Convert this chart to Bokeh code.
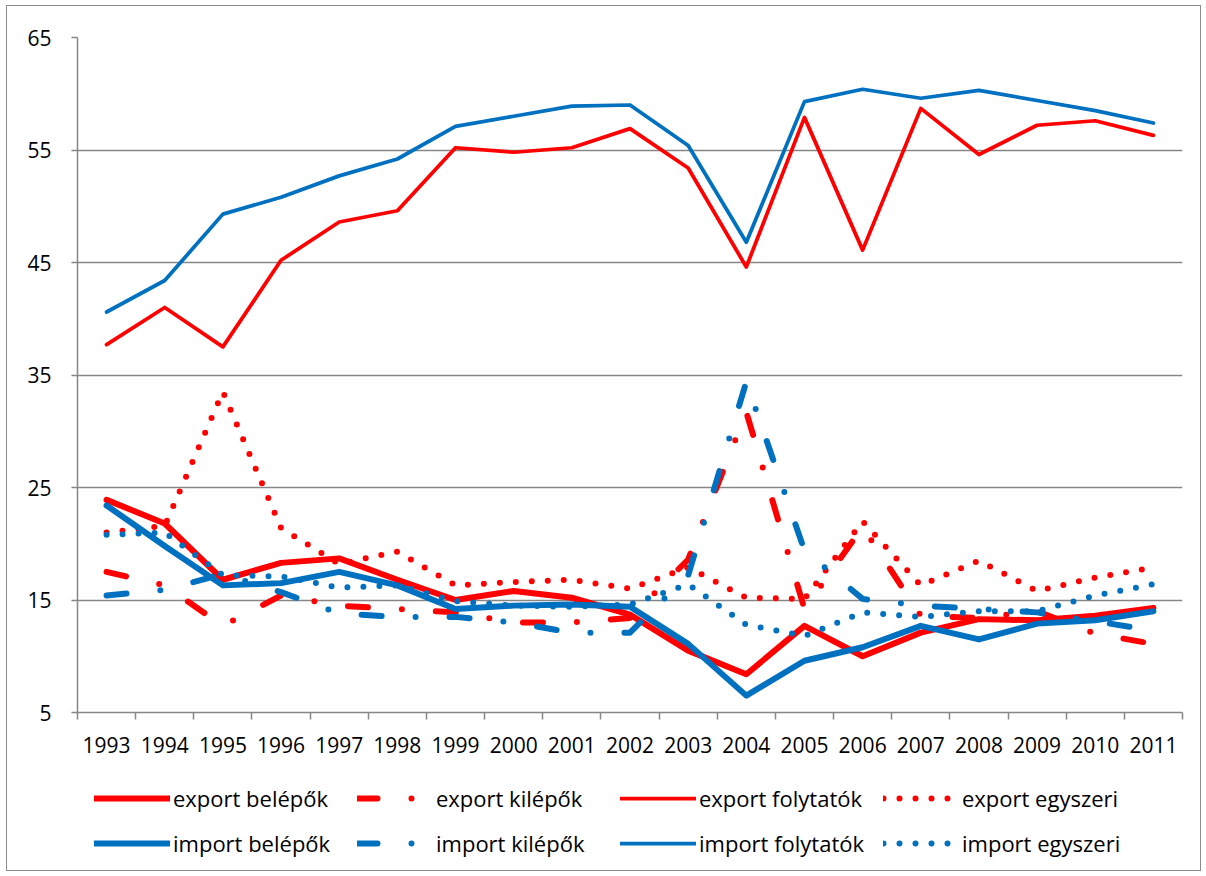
import numpy as np
from bokeh.plotting import figure
from bokeh.layouts import column
from bokeh.models import Range1d, FixedTicker, Legend, LegendItem
from bokeh.embed import file_html
from bokeh.resources import INLINE

years = ["1993", "1994", "1995", "1996", "1997", "1998", "1999", "2000", "2001", "2002",
         "2003", "2004", "2005", "2006", "2007", "2008", "2009", "2010", "2011"]
y_ticks = [5, 15, 25, 35, 45, 55, 65]

export_belepok = [23.9, 21.8, 16.8, 18.3, 18.7, 16.8, 15.0, 15.8, 15.2, 13.7, 10.5, 8.4, 12.7, 10.0, 12.1, 13.3, 13.2, 13.6, 14.3]
export_kilepok = [17.5, 16.3, 12.7, 15.4, 14.5, 14.2, 13.9, 13.0, 13.0, 13.4, 18.6, 31.7, 14.2, 21.5, 13.6, 13.4, 14.0, 12.0, 11.1]
export_folytatok = [37.7, 41.0, 37.5, 45.2, 48.6, 49.6, 55.2, 54.8, 55.2, 56.9, 53.4, 44.6, 57.9, 46.1, 58.7, 54.6, 57.2, 57.6, 56.3]
export_egyszeri = [21.0, 21.6, 33.5, 21.4, 18.2, 19.3, 16.3, 16.6, 16.8, 16.0, 17.9, 15.2, 15.1, 22.0, 16.3, 18.5, 15.8, 17.0, 17.9]
import_belepok = [23.4, 19.8, 16.3, 16.5, 17.5, 16.3, 14.2, 14.5, 14.6, 14.4, 11.1, 6.5, 9.6, 10.8, 12.7, 11.5, 12.9, 13.2, 14.0]
import_kilepok = [15.4, 15.9, 17.3, 15.7, 13.8, 13.5, 13.5, 13.0, 12.1, 12.1, 17.2, 34.4, 19.4, 15.1, 14.5, 14.2, 13.9, 13.1, 12.3]
import_folytatok = [40.6, 43.4, 49.3, 50.8, 52.7, 54.2, 57.1, 58.0, 58.9, 59.0, 55.4, 46.8, 59.3, 60.4, 59.6, 60.3, 59.4, 58.5, 57.4]
import_egyszeri = [20.8, 21.0, 17.2, 17.1, 16.1, 16.3, 14.9, 14.5, 14.4, 14.6, 16.4, 12.8, 11.8, 13.9, 13.5, 14.0, 14.0, 15.4, 16.4]

RED = "#FF0000"
BLUE = "#0070C0"
GRAY = "#868686"
FONT = "Open Sans"

n = len(years)
x = np.arange(n) + 0.5

p = figure(width=1193, height=762, x_range=Range1d(0, n), y_range=Range1d(5, 65),
           output_backend="svg", toolbar_location=None,
           min_border_left=70, min_border_right=18, min_border_top=31, min_border_bottom=56)
p.outline_line_color = None
p.background_fill_color = "white"
p.border_fill_color = "white"

# x axis: labels at category centres, ticks at category boundaries
p.xaxis.ticker = FixedTicker(ticks=list(x), minor_ticks=list(range(n + 1)))
p.xaxis.major_label_overrides = {float(xi): yr for xi, yr in zip(x, years)}
p.xaxis.major_tick_line_color = None
p.xaxis.major_tick_out = 0
p.xaxis.major_tick_in = 0
p.xaxis.minor_tick_out = 7
p.xaxis.minor_tick_in = 0
p.xaxis.minor_tick_line_color = GRAY
p.xaxis.minor_tick_line_width = 1.5
p.xaxis.major_label_standoff = 17
p.xaxis.axis_line_color = GRAY
p.xaxis.axis_line_width = 1.5
p.xaxis.major_label_text_font = FONT
p.xaxis.major_label_text_font_size = "21px"
p.xaxis.major_label_text_color = "black"

p.yaxis.ticker = FixedTicker(ticks=y_ticks)
p.yaxis.major_tick_out = 6
p.yaxis.major_tick_in = 0
p.yaxis.minor_tick_line_color = None
p.yaxis.major_tick_line_color = GRAY
p.yaxis.major_tick_line_width = 1.5
p.yaxis.axis_line_color = GRAY
p.yaxis.axis_line_width = 1.5
p.yaxis.major_label_standoff = 20
p.yaxis.major_label_text_font = FONT
p.yaxis.major_label_text_font_size = "21px"
p.yaxis.major_label_text_color = "black"

p.xgrid.grid_line_color = None
p.ygrid.ticker = FixedTicker(ticks=y_ticks)
p.ygrid.grid_line_color = GRAY
p.ygrid.grid_line_width = 1.5

series = [
    ("export belépők", export_belepok, RED, 6, "solid"),
    ("export kilépők", export_kilepok, RED, 6, "20 34 0 34"),
    ("export folytatók", export_folytatok, RED, 3.75, "solid"),
    ("export egyszeri", export_egyszeri, RED, 6, "0 16"),
    ("import belépők", import_belepok, BLUE, 6, "solid"),
    ("import kilépők", import_kilepok, BLUE, 6, "20 34 0 34"),
    ("import folytatók", import_folytatok, BLUE, 3.75, "solid"),
    ("import egyszeri", import_egyszeri, BLUE, 6, "0 16"),
]

# legend lives in its own strip below the chart (its y range is far from the data,
# so the sample lines there are only used for the legend swatches)
lg = figure(width=1193, height=102, x_range=Range1d(0, n), y_range=Range1d(1000, 1001),
            output_backend="svg", toolbar_location=None,
            x_axis_type=None, y_axis_type=None,
            min_border_left=0, min_border_right=0, min_border_top=0, min_border_bottom=0)
lg.outline_line_color = None
lg.xgrid.grid_line_color = None
lg.ygrid.grid_line_color = None
lg.background_fill_color = "white"
lg.border_fill_color = "white"

items = []
for label, vals, color, w, dash in series:
    style = dict(line_color=color, line_width=w, line_dash=dash,
                 line_cap="round", line_join="round")
    p.line(x, vals, **style)
    sample = lg.line(x, vals, **style)
    items.append(LegendItem(label=label, renderers=[sample]))

legend = Legend(items=items, location=(17, 12), orientation="horizontal", ncols=4,
                glyph_width=76, glyph_height=20, label_height=20, label_width=169,
                label_standoff=3, spacing=15, padding=10, margin=0,
                border_line_color=None, background_fill_alpha=0,
                label_text_font=FONT, label_text_font_size="22px",
                label_text_color="black")
lg.add_layout(legend, "center")

layout = column(p, lg, spacing=0)
layout.styles = {"border": "1px solid #8c8c8c", "margin-left": "6px", "margin-top": "5px"}

open("out.html", "w").write(file_html(layout, INLINE))
